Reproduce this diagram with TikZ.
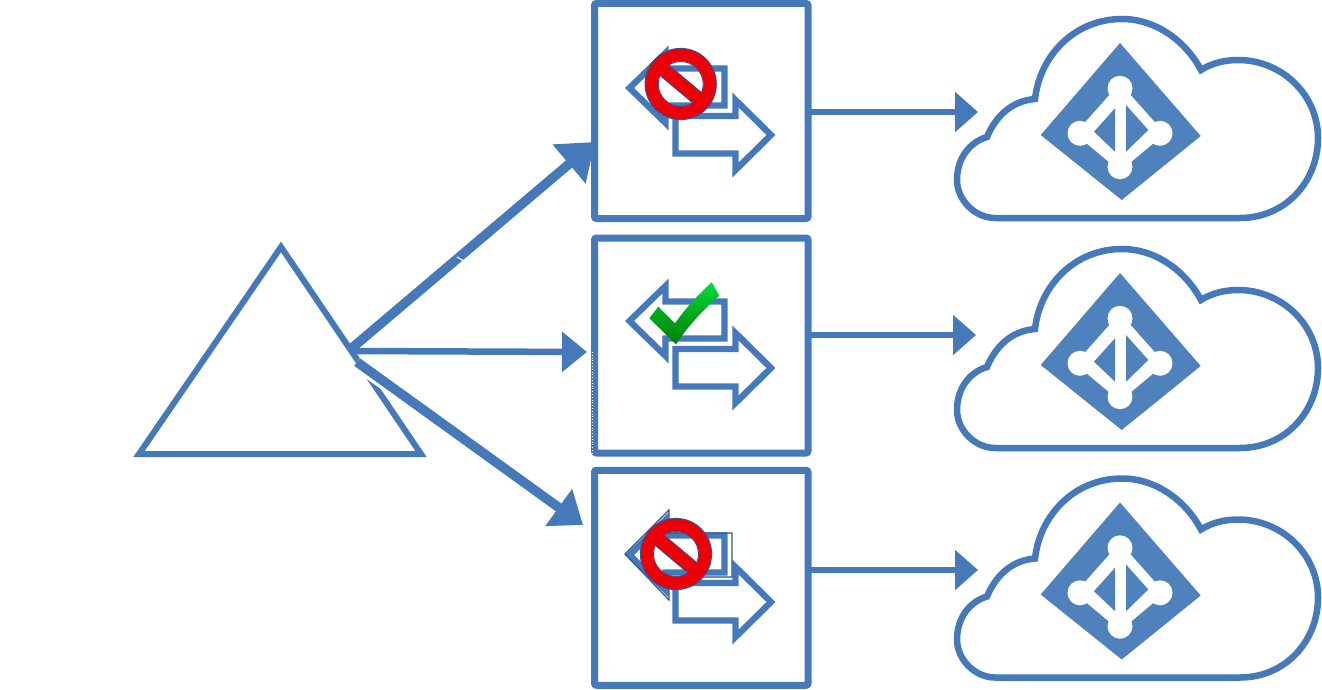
\documentclass[tikz,border=0pt]{standalone}
\usetikzlibrary{arrows.meta}
\definecolor{bl}{HTML}{4579B9}
\definecolor{blf}{HTML}{4F81BD}
\definecolor{dk}{HTML}{2F5597}
\definecolor{nored}{HTML}{EC0008}
\definecolor{chktop}{HTML}{00DD3C}
\definecolor{chkbot}{HTML}{007A00}
\tikzset{
  boxst/.style={draw=bl,line width=7pt,rounded corners=2pt,minimum width=213.5pt,minimum height=215pt,outer sep=0pt,inner sep=0pt},
  outline/.style={draw=bl,line width=6pt,line join=miter},
  iconline/.style={draw=bl,line width=6.3pt,line join=miter},
  connsmall/.style={draw=bl,line width=6pt,-{Triangle[length=23pt,width=39pt]}},
  connmid/.style={draw=bl,line width=6.5pt,-{Triangle[length=25pt,width=39pt]}},
  connup/.style={draw=bl,line width=9.5pt,-{Triangle[length=34pt,width=49pt]}},
  conndown/.style={draw=bl,line width=9.5pt,-{Triangle[length=30pt,width=44pt]}},
  dblarrow/.pic={
    \draw[iconline] (629.5,88) -- (665.5,53) -- (665.5,68.5) -- (724.5,68.5) -- (724.5,105.5) -- (665.5,105.5) -- (665.5,123) -- cycle;
    \draw[iconline] (771,135) -- (735.5,100) -- (735.5,116) -- (675.5,116) -- (675.5,153.5) -- (735.5,153.5) -- (735.5,170) -- cycle;
  },
  nosign/.pic={
    \draw[dk,line width=1pt] (0,0) circle[radius=22.5];
    \draw[dk,line width=.8pt,fill=nored,rotate=-40] (-27,-6.8) rectangle (27,6.8);
    \draw[nored,line width=12.8pt] (0,0) circle[radius=29.2];
    \draw[dk,line width=1pt] (0,0) circle[radius=35.6];
  },
  cloudicon/.pic={
    \draw[draw=bl,line width=6.5pt,line join=miter]
      (995,218) -- (1240,218)
      .. controls (1285,218) and (1318,182) .. (1318,138)
      .. controls (1318,95) and (1282,60) .. (1238,60)
      .. controls (1225,60) and (1212,63) .. (1201,70)
      .. controls (1185,40) and (1155,19) .. (1122,19)
      .. controls (1075,19) and (1040,55) .. (1035,99)
      .. controls (1010,101) and (995,118) .. (987,137)
      .. controls (970,142) and (957,158) .. (957,180)
      .. controls (957,200) and (975,218) .. (995,218) -- cycle;
    \fill[blf] (1120,43) -- (1200.7,136) -- (1121.7,200) -- (1040.7,135) -- cycle;
    \draw[white,line width=7pt,line join=round] (1120,88.3) -- (1080,133.3) -- (1120,166.7) -- (1160,133.3) -- cycle;
    \fill[white] (1120,88.3) -- (1080,133.3) -- (1120,166.7) -- (1160,133.3) -- cycle;
    \fill[white] (1120,88.3) circle[radius=12.5] (1080,133.3) circle[radius=12.5]
      (1160,133.3) circle[radius=12.5] (1120,166.7) circle[radius=12.5];
    \fill[blf] (1115,108.3) -- (1115,151.7) -- (1094,131.7) -- cycle;
    \fill[blf] (1126,105) -- (1126,151.7) -- (1148.3,130) -- cycle;
  }
}
\begin{document}
\begin{tikzpicture}[x=1pt,y=-1pt]
\useasboundingbox[fill=white] (0,0) rectangle (1322,690);
% triangle
\coordinate (apex) at (281,247);
\coordinate (baseL) at (139,454);
\coordinate (baseR) at (421,454);
\draw[outline] (apex) -- (baseR) -- (baseL) -- cycle;
% boxes
\node[boxst] (box1) at (701.25,111) {};
\node[boxst] (box2) at (701.25,345.5) {};
\node[boxst] (box3) at (701.25,577.75) {};
% box icons
\pic at (0,0) {dblarrow};
\pic at (0,233) {dblarrow};
\pic at (0,467) {dblarrow};
\draw[dk,line width=1.2pt,line join=miter] (625,554) -- (669,510) -- (669,533) -- (732,533) -- (732,577) -- (669,577) -- (669,600) -- cycle;
\pic at (680.7,84) {nosign};
\pic at (676,554) {nosign};
\shade[top color=chktop,bottom color=chkbot]
  (649.3,318.3) -- (658.3,306.7) -- (675,323.3) .. controls (688,305) and (700,293) .. (711.7,282.3)
  -- (719.3,295.7) .. controls (703,310) and (688,326) .. (676,344.3) -- cycle;
% clouds
\pic at (0,0) {cloudicon};
\pic at (0,230) {cloudicon};
\pic at (0,459.5) {cloudicon};
% connectors to clouds
\coordinate (in1) at (978,112);
\coordinate (in2) at (976,335);
\coordinate (in3) at (978,570);
\draw[connsmall] (box1.east |- in1) -- (in1);
\draw[connsmall] (box2.east |- in2) -- (in2);
\draw[connsmall] (box3.east |- in3) -- (in3);
% connectors from triangle
\coordinate (src1) at (352,348);
\coordinate (src2) at (350,351);
\coordinate (src3) at (357,362);
\coordinate (tip1) at (595,142);
\coordinate (tip2) at (587,352);
\coordinate (tip3) at (583,525);
\draw[white,line width=16pt,shorten >=190pt] (src3) -- (tip3);
\draw[connup] (src1) -- (tip1);
\draw[connmid] (src2) -- (tip2);
\draw[conndown] (src3) -- (tip3);
\draw[white,line width=1.2pt] (457,257) -- (467,263);
\draw[white,line width=.8pt,dotted] (592,352) -- (592,455);
\end{tikzpicture}
\end{document}
